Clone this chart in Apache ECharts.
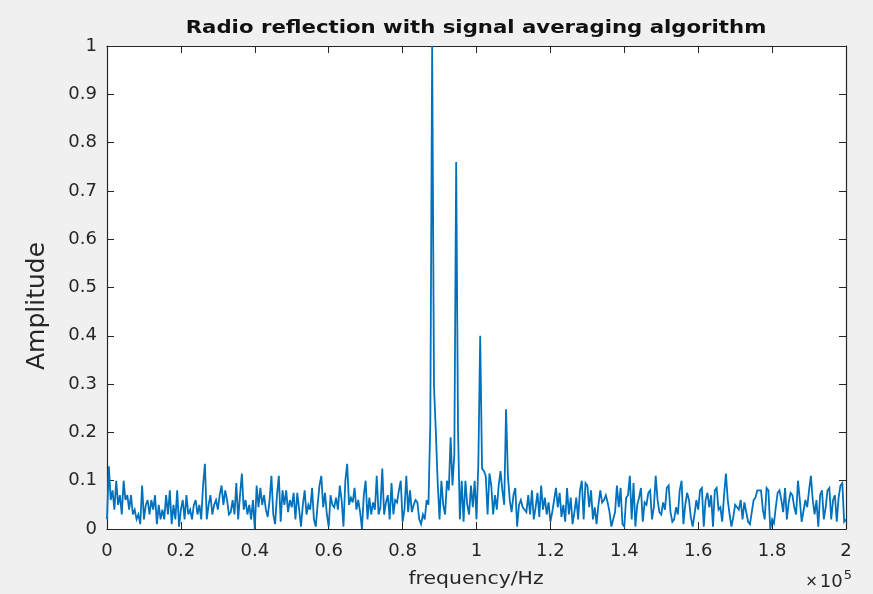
<!DOCTYPE html>
<html>
<head>
<meta charset="utf-8">
<script src="https://cdn.jsdelivr.net/npm/echarts@6/dist/echarts.min.js"></script>
<style>
  html, body { margin: 0; padding: 0; background: #f0f0f0; }
  #chart { width: 873px; height: 594px; }
</style>
</head>
<body>
<div id="chart"></div>
<script>
// Spectrum after signal averaging: one amplitude per 500 Hz frequency bin, 0 .. 200 kHz
const binWidth = 500;
const amplitude = [
  0.02, 0.13, 0.06, 0.08, 0.04, 0.10, 0.05, 0.07, 0.03, 0.10,
  0.06, 0.07, 0.04, 0.07, 0.03, 0.04, 0.02, 0.03, 0.01, 0.09,
  0.02, 0.05, 0.06, 0.03, 0.06, 0.04, 0.07, 0.01, 0.05, 0.02,
  0.04, 0.02, 0.07, 0.03, 0.08, 0.01, 0.05, 0.02, 0.08, 0.005,
  0.04, 0.06, 0.02, 0.07, 0.03, 0.04, 0.02, 0.05, 0.06, 0.03,
  0.05, 0.02, 0.09, 0.135, 0.02, 0.05, 0.07, 0.03, 0.05, 0.06,
  0.04, 0.07, 0.09, 0.05, 0.08, 0.06, 0.03,
  0.035, 0.06, 0.03, 0.095, 0.02, 0.07, 0.115, 0.04, 0.06, 0.03,
  0.05, 0.02, 0.06, 0.0, 0.09, 0.045, 0.085, 0.05, 0.07, 0.04,
  0.025, 0.06, 0.11, 0.03, 0.01, 0.07, 0.11, 0.015, 0.08, 0.05,
  0.08, 0.035, 0.06, 0.045, 0.075, 0.02, 0.075, 0.04, 0.005, 0.05,
  0.08, 0.03, 0.05, 0.04, 0.085, 0.02, 0.005, 0.05, 0.09, 0.11,
  0.045, 0.075, 0.03, 0.005, 0.07, 0.05, 0.045, 0.065, 0.04, 0.09,
  0.06, 0.005, 0.1, 0.135, 0.05, 0.065, 0.055,
  0.085, 0.04, 0.06, 0.035, 0.0, 0.07, 0.1, 0.02, 0.065, 0.03,
  0.055, 0.04, 0.11, 0.03, 0.045, 0.125, 0.03, 0.055, 0.07, 0.02,
  0.095, 0.03, 0.06, 0.055, 0.08, 0.1, 0.015, 0.04, 0.11, 0.035,
  0.08, 0.035, 0.05, 0.06, 0.055, 0.02, 0.01, 0.03, 0.02, 0.06,
  0.05, 0.22, 1.0, 0.295, 0.2, 0.095, 0.02, 0.1, 0.05, 0.03,
  0.1, 0.08, 0.19, 0.09, 0.155, 0.76, 0.205, 0.02, 0.1, 0.015,
  0.1, 0.05, 0.03, 0.09, 0.045, 0.1, 0.02, 0.135, 0.40, 0.125,
  0.12, 0.11, 0.03, 0.115, 0.09, 0.03, 0.07, 0.04, 0.09, 0.12,
  0.08, 0.05, 0.248, 0.11, 0.06, 0.035, 0.07,
  0.085, 0.005, 0.05, 0.06, 0.045, 0.04, 0.035, 0.07, 0.03, 0.08,
  0.02, 0.045, 0.075, 0.025, 0.09, 0.04, 0.065, 0.03, 0.055, 0.015,
  0.035, 0.06, 0.085, 0.045, 0.075, 0.025, 0.05, 0.015, 0.085, 0.03,
  0.065, 0.01, 0.035, 0.065, 0.02, 0.08, 0.1, 0.02, 0.095, 0.09,
  0.045, 0.08, 0.02, 0.045, 0.01, 0.05, 0.08, 0.055, 0.06,
  0.07, 0.055, 0.035, 0.005, 0.02, 0.035, 0.09, 0.045, 0.085, 0.01,
  0.005, 0.065, 0.07, 0.11, 0.02, 0.095, 0.005, 0.05, 0.065, 0.085,
  0.015, 0.055, 0.05, 0.075, 0.08, 0.02, 0.045, 0.11, 0.06, 0.035,
  0.03, 0.055, 0.04, 0.085, 0.09, 0.035, 0.015, 0.02, 0.045, 0.03,
  0.08, 0.1, 0.01, 0.05, 0.075, 0.06, 0.025, 0.005, 0.03, 0.06,
  0.04, 0.08, 0.085, 0.005, 0.06, 0.075, 0.045, 0.07, 0.005, 0.08,
  0.085, 0.04, 0.045, 0.015, 0.07, 0.115, 0.06,
  0.03, 0.005, 0.025, 0.05, 0.045, 0.04, 0.06, 0.02, 0.055, 0.055,
  0.015, 0.01, 0.035, 0.06, 0.065, 0.08, 0.08, 0.08, 0.04, 0.02,
  0.085, 0.08, 0.0, 0.02, 0.012, 0.045, 0.075, 0.08, 0.06, 0.035,
  0.085, 0.02, 0.055, 0.075, 0.07, 0.045, 0.03, 0.1, 0.06, 0.015,
  0.012, 0.06, 0.045, 0.08, 0.11, 0.06, 0.03, 0.06, 0.005, 0.07,
  0.08, 0.02, 0.045, 0.08, 0.085, 0.02, 0.06, 0.07, 0.015, 0.065,
  0.09, 0.095, 0.015, 0.02
];

// Tick labels (frequency shown in units of 10^5 Hz)
const xTickLabels = ['0', '0.2', '0.4', '0.6', '0.8', '1', '1.2', '1.4', '1.6', '1.8', '2'];
const yTickLabels = ['0', '0.1', '0.2', '0.3', '0.4', '0.5', '0.6', '0.7', '0.8', '0.9', '1'];
const xStep = 20000;
const yStep = 0.1;

const titleText = 'Radio reflection with signal averaging algorithm';
const xName = 'frequency/Hz';
const yName = 'Amplitude';

const points = amplitude.map((a, i) => [i * binWidth, a]);

const axisColor = '#262626';
const tickFont = 'DejaVu Sans';

function baseX(extra) {
  return Object.assign({
    type: 'value', min: 0, max: xStep * (xTickLabels.length - 1), interval: xStep,
    axisLine: { show: true, onZero: false, lineStyle: { color: axisColor, width: 1.2 } },
    axisTick: { show: true, inside: true, length: 7, lineStyle: { color: axisColor } },
    splitLine: { show: false }
  }, extra);
}
function baseY(extra) {
  return Object.assign({
    type: 'value', min: 0, max: yStep * (yTickLabels.length - 1), interval: yStep,
    axisLine: { show: true, onZero: false, lineStyle: { color: axisColor, width: 1.2 } },
    axisTick: { show: true, inside: true, length: 7, lineStyle: { color: axisColor } },
    splitLine: { show: false }
  }, extra);
}

const chart = echarts.init(document.getElementById('chart'), null, { renderer: 'canvas' });
chart.setOption({
  backgroundColor: '#f0f0f0',
  animation: false,
  grid: { left: 107, right: 27, top: 46, bottom: 65, show: true, backgroundColor: '#ffffff', borderWidth: 0 },
  xAxis: [
    baseX({
      position: 'bottom',
      axisLabel: {
        show: true, margin: 13, color: axisColor, fontFamily: tickFont, fontSize: 18,
        formatter: v => xTickLabels[Math.round(v / xStep)]
      }
    }),
    baseX({ position: 'top', axisLabel: { show: false } })
  ],
  yAxis: [
    baseY({
      position: 'left',
      axisLabel: {
        show: true, margin: 10, color: axisColor, fontFamily: tickFont, fontSize: 18,
        formatter: v => yTickLabels[Math.round(v / yStep)]
      }
    }),
    baseY({ position: 'right', axisLabel: { show: false } })
  ],
  series: [{
    type: 'line',
    xAxisIndex: 0,
    yAxisIndex: 0,
    data: points,
    showSymbol: false,
    clip: true,
    lineStyle: { color: '#0072BD', width: 1.8, join: 'miter', miterLimit: 4 },
    itemStyle: { color: '#0072BD' }
  }],
  graphic: [
    {
      type: 'text', x: 476, y: 29, scaleX: 1.25,
      style: {
        text: titleText, align: 'center', verticalAlign: 'middle',
        fontFamily: 'DejaVu Sans', fontWeight: 'bold', fontSize: 17, fill: '#111111'
      }
    },
    {
      type: 'text', x: 476, y: 580, scaleX: 1.2,
      style: {
        text: xName, align: 'center', verticalAlign: 'middle',
        fontFamily: 'DejaVu Sans', fontSize: 17, fill: axisColor
      }
    },
    {
      type: 'text', x: 37, y: 306, rotation: Math.PI / 2,
      style: {
        text: yName, align: 'center', verticalAlign: 'middle',
        fontFamily: 'DejaVu Sans', fontSize: 25, fill: axisColor
      }
    },
    {
      type: 'text', x: 852, y: 582,
      style: {
        text: '{m|×}{n|10}{s|5}', align: 'right', verticalAlign: 'middle',
        fill: axisColor,
        rich: {
          m: { fontFamily: 'DejaVu Sans', fontSize: 15, fill: axisColor, padding: [0, 2, 0, 0] },
          n: { fontFamily: 'DejaVu Sans', fontSize: 18, fill: axisColor },
          s: { fontFamily: 'DejaVu Sans', fontSize: 13, fill: axisColor, verticalAlign: 'top', padding: [0, 0, 12, 1] }
        }
      }
    }
  ]
});
</script>
</body>
</html>
